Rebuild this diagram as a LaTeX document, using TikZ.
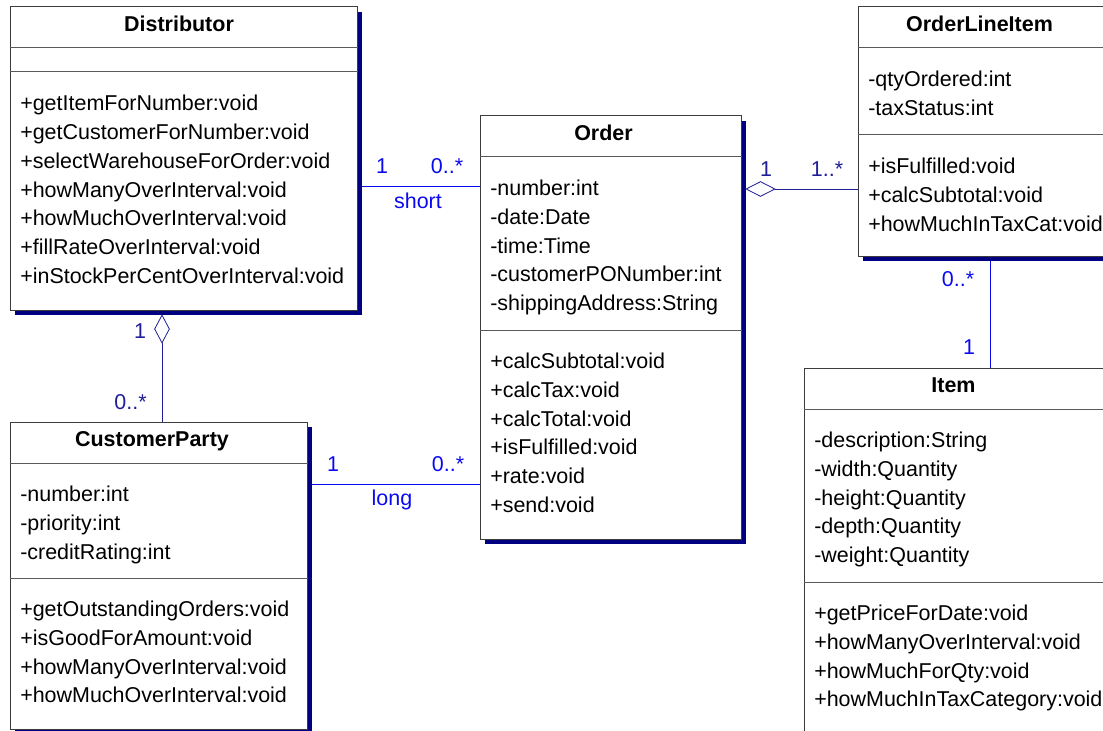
\documentclass[tikz,border=0pt]{standalone}
\usepackage{fontspec}
\setmainfont{Liberation Sans}
\definecolor{umlnavy}{RGB}{0,0,128}
\definecolor{umlblue}{RGB}{10,10,240}
\definecolor{umldark}{RGB}{30,30,150}
\definecolor{umlframe}{RGB}{60,60,60}
\definecolor{umlsep}{RGB}{90,90,90}
\newcommand{\umlfont}{\fontsize{16.1pt}{21.5pt}\selectfont}
\usetikzlibrary{positioning,shapes.geometric,shadows,fit,backgrounds}

\begin{document}
\begin{tikzpicture}[x=0.75pt, y=-0.75pt,
  classbox/.style={draw=umlframe, line width=0.75pt, fill=white, inner sep=0pt,
    drop shadow={shadow xshift=3.75pt, shadow yshift=-3.75pt, fill=umlnavy, opacity=1}},
  plainbox/.style={draw=umlframe, line width=0.75pt, fill=white, inner sep=0pt},
  classname/.style={font=\umlfont\bfseries, anchor=base, inner sep=0pt},
  member/.style={font=\umlfont, anchor=base west, inner sep=0pt},
  sepline/.style={draw=umlsep, line width=0.75pt},
  assoc/.style={draw=umlblue, line width=0.75pt},
  aggline/.style={draw=umldark, line width=0.6pt},
  aggdiamond/.style={diamond, draw=umldark, line width=0.6pt, fill=white, inner sep=0pt},
  multa/.style={font=\umlfont, text=umlblue, anchor=base, inner sep=0pt},
  multd/.style={font=\umlfont, text=umldark, anchor=base, inner sep=0pt}]
  \useasboundingbox (0,0) rectangle (1103,731);

  %--- Distributor ---
  \node[classbox, fit={(10,7) (357,310)}] (dist) {};
  \node[classname] (dist-name) at (179,31.5) {Distributor};
  \draw[sepline] (dist.west |- 0,48) -- (dist.east |- 0,48);
  \draw[sepline] (dist.west |- 0,72) -- (dist.east |- 0,72);
  \foreach \m [count=\i from 0] in {+getItemForNumber:void, +getCustomerForNumber:void,
      +selectWarehouseForOrder:void, +howManyOverInterval:void, +howMuchOverInterval:void,
      +fillRateOverInterval:void, +inStockPerCentOverInterval:void}
    \node[member] (dist-op\i) at (20,{110.7+28.8*\i}) {\m};

  %--- Order ---
  \node[classbox, fit={(480,116) (741,539)}] (order) {};
  \node[classname] (order-name) at (603.5,140.5) {Order};
  \draw[sepline] (order.west |- 0,157) -- (order.east |- 0,157);
  \draw[sepline] (order.west |- 0,330) -- (order.east |- 0,330);
  \foreach \m [count=\i from 0] in {-number:int, -date:Date, -time:Time,
      -customerPONumber:int, -shippingAddress:String}
    \node[member] (order-at\i) at (490,{195.5+28.8*\i}) {\m};
  \foreach \m [count=\i from 0] in {+calcSubtotal:void, +calcTax:void, +calcTotal:void,
      +isFulfilled:void, +rate:void, +send:void}
    \node[member] (order-op\i) at (490,{368.5+28.8*\i}) {\m};

  %--- OrderLineItem ---
  \node[classbox, fit={(858,7) (1115,256)}] (oli) {};
  \node[classname] (oli-name) at (979.5,31.5) {OrderLineItem};
  \draw[sepline] (oli.west |- 0,48) -- (oli.east |- 0,48);
  \draw[sepline] (oli.west |- 0,135) -- (oli.east |- 0,135);
  \foreach \m [count=\i from 0] in {-qtyOrdered:int, -taxStatus:int}
    \node[member] (oli-at\i) at (868,{86.5+28.8*\i}) {\m};
  \foreach \m [count=\i from 0] in {+isFulfilled:void, +calcSubtotal:void, +howMuchInTaxCat:void}
    \node[member] (oli-op\i) at (868,{173.5+28.8*\i}) {\m};

  %--- Item ---
  \node[plainbox, fit={(804,368) (1115,745)}] (item) {};
  \node[classname] (item-name) at (953.5,392.5) {Item};
  \draw[sepline] (item.west |- 0,409) -- (item.east |- 0,409);
  \draw[sepline] (item.west |- 0,582) -- (item.east |- 0,582);
  \foreach \m [count=\i from 0] in {-description:String, -width:Quantity, -height:Quantity,
      -depth:Quantity, -weight:Quantity}
    \node[member] (item-at\i) at (814,{447.5+28.8*\i}) {\m};
  \foreach \m [count=\i from 0] in {+getPriceForDate:void, +howManyOverInterval:void,
      +howMuchForQty:void, +howMuchInTaxCategory:void}
    \node[member] (item-op\i) at (814,{620.5+28.8*\i}) {\m};

  %--- CustomerParty ---
  \node[classbox, fit={(10,422) (307,729)}] (cust) {};
  \node[classname] (cust-name) at (152,446.5) {CustomerParty};
  \draw[sepline] (cust.west |- 0,463) -- (cust.east |- 0,463);
  \draw[sepline] (cust.west |- 0,578) -- (cust.east |- 0,578);
  \foreach \m [count=\i from 0] in {-number:int, -priority:int, -creditRating:int}
    \node[member] (cust-at\i) at (20,{501.5+28.8*\i}) {\m};
  \foreach \m [count=\i from 0] in {+getOutstandingOrders:void, +isGoodForAmount:void,
      +howManyOverInterval:void, +howMuchOverInterval:void}
    \node[member] (cust-op\i) at (20,{616.5+28.8*\i}) {\m};

  %--- Aggregation diamonds ---
  \node[aggdiamond, minimum width=11.25pt, minimum height=21pt] (dist-agg) at (162,329) {};
  \node[aggdiamond, minimum width=21.75pt, minimum height=11.25pt] (order-agg) at (760.5,189) {};

  %--- Connectors ---
  \begin{scope}[on background layer]
    \draw[assoc] (dist.east |- 0,187) -- (order.west |- 0,187);
    \draw[assoc] (cust.east |- 0,484) -- (order.west |- 0,484);
    \draw[aggline] (dist-agg.south) -- (cust.north -| dist-agg.south);
    \draw[aggline] (order-agg.east) -- (oli.west |- order-agg.east);
    \draw[assoc] (oli.south -| 990,0) -- (item.north -| 990,0);
  \end{scope}

  %--- Multiplicities ---
  \node[multa] (short-a) at (382,174) {1};
  \node[multa] (short-b) at (447,174) {0..*};
  \node[multa] (short-lbl) at (418,209) {short};
  \node[multa] (long-a) at (333,471) {1};
  \node[multa] (long-b) at (448,471) {0..*};
  \node[multa] (long-lbl) at (392,505) {long};
  \node[multd] (line-a) at (766,176) {1};
  \node[multd] (line-b) at (827,176) {1..*};
  \node[multd] (party-a) at (140,338) {1};
  \node[multd] (party-b) at (130.5,409) {0..*};
  \node[multa] (item-a) at (958,286) {0..*};
  \node[multa] (item-b) at (969,354) {1};
\end{tikzpicture}
\end{document}
